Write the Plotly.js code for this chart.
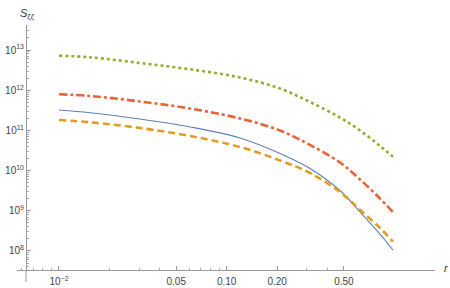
<!DOCTYPE html>
<html>
<head>
<meta charset="utf-8">
<script src="https://cdn.plot.ly/plotly-3.0.1.min.js"></script>
<style>html,body{margin:0;padding:0;background:#fff}#chart{width:450px;height:288px}</style>
</head>
<body>
<div id="chart"></div>
<script>
const r = [0.01, 0.0153, 0.0304, 0.0604, 0.12, 0.208, 0.314, 0.474, 0.624, 0.821, 0.98];
const sBlue   = [3.21e11, 2.75e11, 1.92e11, 1.22e11, 6.47e10, 2.66e10, 1.13e10, 3.2e9, 9.33e8, 2.63e8, 1.06e8];
const sOrange = [1.82e11, 1.59e11, 1.15e11, 7.26e10, 3.87e10, 1.78e10, 8.71e9, 2.94e9, 1.05e9, 3.73e8, 1.72e8];
const sRed    = [7.9e11, 7.18e11, 5.24e11, 3.51e11, 1.98e11, 9.95e10, 4.34e10, 1.59e10, 6.01e9, 2.02e9, 9.3e8];
const sGreen  = [7.21e12, 6.58e12, 4.75e12, 3.31e12, 2.07e12, 1.10e12, 5.08e11, 2.09e11, 9.95e10, 4.09e10, 2.22e10];

const xTickVals = [0.01, 0.05, 0.1, 0.2, 0.5];
const xTickText = ['10<sup>\u22122</sup>', '0.05', '0.10', '0.20', '0.50'];
const xMinorVals = [0.006, 0.007, 0.008, 0.009, 0.02, 0.03, 0.04, 0.06, 0.07, 0.08, 0.09, 0.3, 0.4];
const yTickVals = [1e8, 1e9, 1e10, 1e11, 1e12, 1e13];
const yTickText = ['10<sup>8</sup>', '10<sup>9</sup>', '10<sup>10</sup>', '10<sup>11</sup>', '10<sup>12</sup>', '10<sup>13</sup>'];
const yMinorVals = [];
for (let e = 7; e <= 13; e++) for (let k = 2; k <= 9; k++) yMinorVals.push(k * Math.pow(10, e));

const traces = [
  {x: r, y: sBlue, mode: 'lines', line: {color: '#5E81B5', width: 1.1, shape: 'spline'}},
  {x: r, y: sOrange, mode: 'lines', line: {color: '#E19C24', width: 2.6, dash: '7px,4px', shape: 'spline'}},
  {x: r, y: sRed, mode: 'lines', line: {color: '#EB6235', width: 2.6, dash: '8px,3px,3px,3px', shape: 'spline'}},
  {x: r, y: sGreen, mode: 'lines', line: {color: '#8FB032', width: 2.6, dash: '3px,3px', shape: 'spline'}}
];

const L = 17, R = 435, T = 25, B = 270;
const yAxisPx = 26;
const pos = (yAxisPx - L) / (R - L);

const layout = {
  width: 450, height: 288,
  margin: {l: L, r: 450 - R, t: T, b: 288 - B, pad: 0},
  paper_bgcolor: '#fff', plot_bgcolor: '#fff',
  showlegend: false,
  font: {family: 'Liberation Sans, Arial, sans-serif', size: 10, color: '#444'},
  xaxis: {
    type: 'log', range: [-2.2504, 0.2421],
    showgrid: false, zeroline: false, showline: true, linecolor: '#999', linewidth: 1,
    ticks: 'inside', ticklen: 4, tickcolor: '#999', tickwidth: 1,
    tickmode: 'array', tickvals: xTickVals, ticktext: xTickText,
    ticklabelstandoff: 2,
    minor: {tickmode: 'array', tickvals: xMinorVals, ticks: 'inside', ticklen: 2.5, tickcolor: '#aaa', showgrid: false},
    tickfont: {size: 10, color: '#444'}
  },
  yaxis: {
    type: 'log', range: [7.527, 13.622],
    anchor: 'free', position: pos,
    showgrid: false, zeroline: false, showline: true, linecolor: '#999', linewidth: 1,
    ticks: 'inside', ticklen: 4, tickcolor: '#999', tickwidth: 1,
    tickmode: 'array', tickvals: yTickVals, ticktext: yTickText,
    minor: {tickmode: 'array', tickvals: yMinorVals, ticks: 'inside', ticklen: 2, tickcolor: '#aaa', showgrid: false},
    tickfont: {size: 10, color: '#444'}
  },
  shapes: [
    {type: 'line', xref: 'paper', yref: 'paper', x0: pos, x1: pos, y0: 0, y1: -12 / (B - T), line: {color: '#999', width: 1}}
  ],
  annotations: [
    {xref: 'paper', yref: 'paper', x: (27 - L) / (R - L), y: (B - 14) / (B - T), text: '<i>S</i><sub>\u03B6\u03B6</sub>', showarrow: false, xanchor: 'center', yanchor: 'middle', font: {size: 11, color: '#333'}},
    {xref: 'paper', yref: 'paper', x: (447 - L) / (R - L), y: (B - 268) / (B - T), text: '<i>r</i>', showarrow: false, xanchor: 'center', yanchor: 'middle', font: {size: 11, color: '#333'}}
  ]
};

Plotly.newPlot('chart', traces, layout, {staticPlot: true, displayModeBar: false});
</script>
</body>
</html>
